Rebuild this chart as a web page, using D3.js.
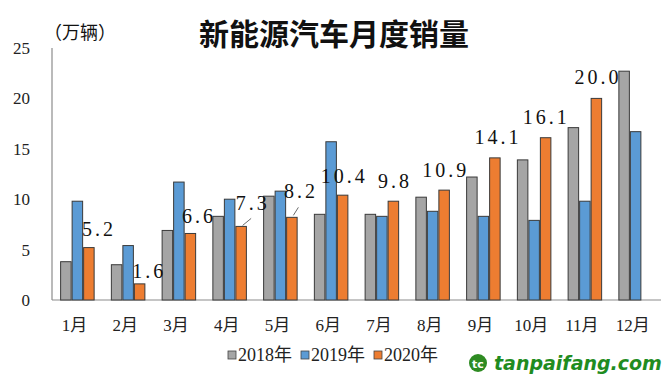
<!DOCTYPE html>
<html>
<head>
<meta charset="utf-8">
<script src="https://cdn.jsdelivr.net/npm/d3@7"></script>
<style>
  html, body { margin: 0; padding: 0; background: #fff; }
  #chart { width: 666px; height: 382px; }
</style>
</head>
<body>
<div id="chart"></div>
<script>
// ── 新能源汽车月度销量 (万辆) ─────────────────────────────
const months    = ["1月","2月","3月","4月","5月","6月","7月","8月","9月","10月","11月","12月"];
const series    = ["2018年","2019年","2020年"];
const sales2018 = [3.8, 3.5, 6.9, 8.3, 10.3, 8.5, 8.5, 10.2, 12.2, 13.9, 17.1, 22.7];
const sales2019 = [9.8, 5.4, 11.7, 10.0, 10.8, 15.7, 8.3, 8.8, 8.3, 7.9, 9.8, 16.7];
const sales2020 = [5.2, 1.6, 6.6, 7.3, 8.2, 10.4, 9.8, 10.9, 14.1, 16.1, 20.0, null];
const yTicks    = [0, 5, 10, 15, 20, 25];

// label placement relative to the 2020 bar top (centre x, top y)
const labelOffsets = [
  [8.5,-19],[8,-13],[7,-17],[10,-23],[7.5,-26],[0,-19],
  [0,-20],[0,-20],[1.5,-21],[-1,-21],[0,-21]
];
// small leader lines (4月, 5月)
const leaders = { 3: [[1.5,-1],[10,-8]], 4: [[1.5,-2],[6.5,-10]] };

const width = 666, height = 382;
const colors = ["#a5a5a5", "#5b9bd5", "#ed7d31"];
const serif = "'Liberation Serif','Noto Sans CJK SC',serif";
const cjk   = "'Noto Sans CJK SC',sans-serif";

const svg = d3.select("#chart").append("svg")
  .attr("width", width).attr("height", height)
  .attr("viewBox", `0 0 ${width} ${height}`);

const x0 = d3.scaleBand().domain(months).range([52, 661])
  .paddingInner(0.32).paddingOuter(0.16);
const x1 = d3.scaleBand().domain(series).range([0, x0.bandwidth()]);
const y  = d3.scaleLinear().domain([0, 25]).range([300, 48]);

const rows = months.map((m, i) => ({
  month: m,
  values: [sales2018[i], sales2019[i], sales2020[i]]
}));

// axes lines
svg.append("line").attr("x1", 52).attr("x2", 52)
  .attr("y1", y(25)).attr("y2", y(0))
  .attr("stroke", "#8c8c8c").attr("stroke-width", 1.2);
svg.append("line").attr("x1", 52).attr("x2", 661)
  .attr("y1", y(0)).attr("y2", y(0))
  .attr("stroke", "#8c8c8c").attr("stroke-width", 1.2);

// y tick labels
svg.append("g").selectAll("text").data(yTicks).join("text")
  .attr("x", 30).attr("y", d => y(d) + 6)
  .attr("text-anchor", "end")
  .style("font-family", serif).style("font-size", "17px").style("fill", "#222")
  .text(d => d);

// bars
const groups = svg.append("g").selectAll("g").data(rows).join("g")
  .attr("transform", d => `translate(${x0(d.month)},0)`);

groups.selectAll("rect")
  .data(d => d.values.map((v, k) => ({ key: series[k], value: v, k })).filter(d => d.value != null))
  .join("rect")
  .attr("x", d => x1(d.key) + 0.5)
  .attr("y", d => y(d.value))
  .attr("width", x1.bandwidth() - 1)
  .attr("height", d => y(0) - y(d.value))
  .attr("fill", d => colors[d.k])
  .attr("stroke", "#3a3a3a").attr("stroke-width", 1);

// month labels
svg.append("g").selectAll("text").data(months).join("text")
  .attr("x", d => x0(d) + x0.bandwidth() / 2 - 3)
  .attr("y", 331)
  .attr("text-anchor", "middle")
  .style("font-family", serif).style("font-size", "17px").style("fill", "#222")
  .text(d => d);

// 2020 value labels
const labelled = sales2020.map((v, i) => ({ v, i })).filter(d => d.v != null);
const cx2020 = i => x0(months[i]) + x1("2020年") + x1.bandwidth() / 2;

svg.append("g").selectAll("text").data(labelled).join("text")
  .attr("x", d => cx2020(d.i) + labelOffsets[d.i][0] + 1.5)
  .attr("y", d => y(d.v) + labelOffsets[d.i][1] + 7)
  .attr("text-anchor", "middle")
  .style("font-family", serif).style("font-size", "20px").style("fill", "#111")
  .style("letter-spacing", "3px")
  .text(d => d.v.toFixed(1));

Object.entries(leaders).forEach(([i, seg]) => {
  i = +i;
  const bx = cx2020(i), by = y(sales2020[i]);
  svg.append("line")
    .attr("x1", bx + seg[0][0]).attr("y1", by + seg[0][1])
    .attr("x2", bx + seg[1][0]).attr("y2", by + seg[1][1])
    .attr("stroke", "#444").attr("stroke-width", 0.8);
});

// title + unit
svg.append("text").attr("x", 334).attr("y", 45).attr("text-anchor", "middle")
  .style("font-family", cjk).style("font-size", "30px").style("font-weight", 700)
  .style("fill", "#111").text("新能源汽车月度销量");
svg.append("text").attr("x", 44).attr("y", 39)
  .style("font-family", cjk).style("font-size", "18px").style("fill", "#111")
  .text("（万辆）");

// legend
const legendX = [228, 301, 374];
const legend = svg.append("g").selectAll("g").data(series).join("g")
  .attr("transform", (d, k) => `translate(${legendX[k]},348)`);
legend.append("rect").attr("x", 0).attr("y", 3).attr("width", 8).attr("height", 8)
  .attr("fill", (d, k) => colors[k]).attr("stroke", "#444").attr("stroke-width", 0.8);
legend.append("text").attr("x", 10).attr("y", 13)
  .style("font-family", serif).style("font-size", "18px").style("fill", "#222")
  .text(d => d);

// site mark
const mark = svg.append("g").attr("transform", "translate(478,363)");
mark.append("circle").attr("r", 9).attr("fill", "#2e8b22");
mark.append("text").attr("x", 0).attr("y", 4.5).attr("text-anchor", "middle")
  .style("font-family", "'DejaVu Sans',sans-serif").style("font-size", "11px")
  .style("font-weight", "bold").style("fill", "#fff").text("tc");
svg.append("text").attr("x", 494).attr("y", 370)
  .style("font-family", "'DejaVu Sans',sans-serif").style("font-size", "19px")
  .style("font-weight", "bold").style("font-style", "italic").style("fill", "#1f8c1f")
  .text("tanpaifang.com");
</script>
</body>
</html>
